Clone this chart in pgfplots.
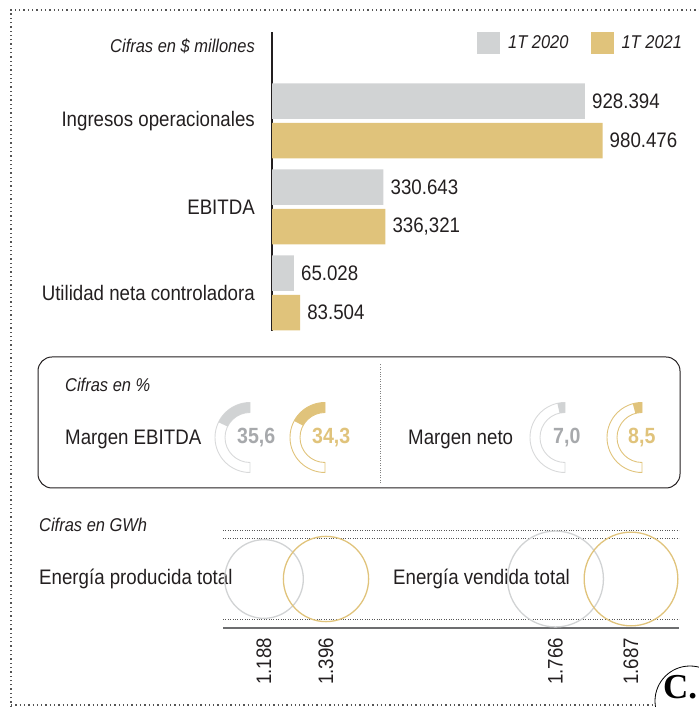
\documentclass[border=0pt]{standalone}
\usepackage{pgfplots}
\usepackage{pgfplotstable}
\pgfplotsset{compat=1.18}
\usepackage{fontspec}
\setmainfont{Liberation Sans}[FakeStretch=0.89]
\newfontfamily\logofont{Liberation Serif}
\definecolor{cgray}{HTML}{D1D3D4}
\definecolor{cgold}{HTML}{E0C37B}
\definecolor{gline}{HTML}{D8D9DA}
\definecolor{gtext}{HTML}{A7A9AC}
\definecolor{ctext}{HTML}{231F20}
\definecolor{cdot}{HTML}{555555}
\definecolor{csolid}{HTML}{6D6E70}
\newcommand\fmain{\fontsize{21bp}{24bp}\selectfont}
\newcommand\fitl{\fontsize{18.5bp}{21bp}\selectfont\itshape}
\newcommand\fbold{\fontsize{22bp}{24bp}\selectfont\bfseries}

% bars (millones de $)
\pgfplotstableread{
y v lab
2 928.394 928.394
1 330.643 330.643
0 65.028 65.028
}\tprev
\pgfplotstableread{
y v lab
2 980.476 980.476
1 336.321 336,321
0 83.504 83.504
}\tcurr
% energy circles (GWh); x = layout position
\pgfplotstableread{
x y v
264 128 1188
555.5 128 1766
}\tcprev
\pgfplotstableread{
x y v
326 128 1396
631 128 1687
}\tccurr

% gauge: centre x, value (%), fill colour, line colour
\newcommand\gauge[4]{%
  \draw[#4, line width=0.9bp] (#1,269.5) ++(90:35bp) arc[start angle=90,end angle=270,radius=35bp] -- ++(0bp,10bp) arc[start angle=270,end angle=90,radius=25bp] -- cycle;
  \fill[#3] (#1,269.5) ++(90:35bp) arc[start angle=90,end angle={90+1.8*#2},radius=35bp] -- ++({90+1.8*#2}:-10bp) arc[start angle={90+1.8*#2},end angle=90,radius=25bp] -- cycle;
}

\begin{document}
\begin{tikzpicture}
\useasboundingbox (0,0) rectangle (699bp,707bp);
\clip (0,0) rectangle (699bp,707bp);

% ---------- canvas axis (frame, gauges, circles, texts)
\begin{axis}[at={(0,0)}, anchor=south west, scale only axis,
  width=699bp, height=707bp, xmin=0, xmax=699, ymin=0, ymax=707,
  hide axis, clip=false]
  % frame
  \draw[cdot, line width=1.3bp, dash pattern=on 1.3bp off 3bp] (11,0) -- (11,697) -- (699,697);
  \draw[cdot, line width=1.3bp, dash pattern=on 1.3bp off 3bp] (11,2) -- (652,2);
  % box
  \draw[ctext, line width=1bp, rounded corners=14bp] (38,219) rectangle (680,350);
  \draw[gray, line width=0.9bp, dash pattern=on 0.9bp off 1.5bp] (380,224) -- (380,343);
  % gauges
  \gauge{250}{35.6}{cgray}{gline}
  \gauge{325}{34.3}{cgold}{cgold}
  \gauge{565}{7.0}{cgray}{gline}
  \gauge{642}{8.5}{cgold}{cgold}
  % bottom rules
  \draw[cdot, line width=0.8bp, dash pattern=on 0.8bp off 1.6bp] (223,177) -- (679,177);
  \draw[cdot, line width=0.8bp, dash pattern=on 0.8bp off 1.6bp] (223,169) -- (679,169);
  \draw[cdot, line width=0.8bp, dash pattern=on 0.8bp off 1.6bp] (223,88) -- (679,88);
  \draw[csolid, line width=1.6bp] (223,79) -- (679,79);
  % circles
  \addplot[scatter, only marks, mark=o, line width=1.3bp,
    scatter/use mapped color={draw=cgray, fill=none},
    point meta={\thisrow{v}},
    visualization depends on={1.145*sqrt(\thisrow{v}) \as \rad},
    scatter/@pre marker code/.append style={/tikz/mark size=\rad}]
    table[x=x, y=y] {\tcprev};
  \addplot[scatter, only marks, mark=o, line width=1.3bp,
    scatter/use mapped color={draw=cgold, fill=none},
    point meta={\thisrow{v}},
    visualization depends on={1.145*sqrt(\thisrow{v}) \as \rad},
    scatter/@pre marker code/.append style={/tikz/mark size=\rad}]
    table[x=x, y=y] {\tccurr};
  % texts
  \node[anchor=base east, inner sep=0pt, font=\fitl, text=ctext] at (255,654) {Cifras en \$ millones};
  \node[anchor=base west, inner sep=0pt, font=\fitl, text=ctext] at (65,315) {Cifras en \%};
  \node[anchor=base west, inner sep=0pt, font=\fmain, text=ctext] at (65,262) {Margen EBITDA};
  \node[anchor=base west, inner sep=0pt, font=\fmain, text=ctext] at (408,262) {Margen neto};
  \node[anchor=base west, inner sep=0pt, font=\fbold, text=gtext] at (237,263) {35,6};
  \node[anchor=base west, inner sep=0pt, font=\fbold, text=cgold] at (312,263) {34,3};
  \node[anchor=base west, inner sep=0pt, font=\fbold, text=gtext] at (553,263) {7,0};
  \node[anchor=base west, inner sep=0pt, font=\fbold, text=cgold] at (628,263) {8,5};
  \node[anchor=base west, inner sep=0pt, font=\fitl, text=ctext] at (39,175) {Cifras en GWh};
  \node[anchor=base west, inner sep=0pt, font=\fmain, text=ctext] at (39,122) {Energía producida total};
  \node[anchor=base west, inner sep=0pt, font=\fmain, text=ctext] at (393,122) {Energía vendida total};
  \node[anchor=east, rotate=90, inner sep=0pt, font=\fmain, text=ctext] at (264,69) {1.188};
  \node[anchor=east, rotate=90, inner sep=0pt, font=\fmain, text=ctext] at (326,69) {1.396};
  \node[anchor=east, rotate=90, inner sep=0pt, font=\fmain, text=ctext] at (555.5,69) {1.766};
  \node[anchor=east, rotate=90, inner sep=0pt, font=\fmain, text=ctext] at (631,69) {1.687};
  % logo
  \draw[black, line width=0.8bp] (690,6) circle[radius=35bp];
  \node[anchor=base west, inner sep=0pt, font=\logofont\bfseries\fontsize{35bp}{36bp}\selectfont] at (663,9) {C.};
\end{axis}

% ---------- bar axis
\begin{axis}[at={(272bp,376bp)}, anchor=south west, scale only axis,
  width=337.1bp, height=299bp, xmin=0, xmax=1000, ymin=-0.4419, ymax=3.035,
  xbar, bar width=35.5bp, clip=false,
  axis x line=none, axis y line=left, axis line style={-, draw=ctext, line width=1.1bp},
  ytick={0,1,2}, yticklabels={Utilidad neta controladora, EBITDA, Ingresos operacionales},
  major tick length=0pt,
  yticklabel style={font=\fmain, text=ctext, inner sep=0pt, anchor=east, xshift=-17bp},
  point meta=explicit symbolic, nodes near coords,
  nodes near coords style={font=\fmain, text=ctext, anchor=west, inner sep=0pt, xshift=7bp},
  legend style={at={(axis cs:608,2.907)}, anchor=west, draw=none, fill=none, inner sep=0pt,
    font=\fitl, text=ctext, nodes={inner sep=0pt, anchor=west},
    /tikz/every odd column/.append style={column sep=8bp},
    /tikz/every even column/.append style={column sep=22bp}},
  legend columns=2,
  legend image code/.code={\fill[#1] (0bp,-11bp) rectangle (23bp,11bp);},
  ]
  \addplot[fill=cgray, draw=none, bar shift=19.75bp] table[x=v, y=y, meta=lab] {\tprev};
  \addplot[fill=cgold, draw=none, bar shift=-19.75bp] table[x=v, y=y, meta=lab] {\tcurr};
  \legend{1T 2020, 1T 2021}
\end{axis}
\end{tikzpicture}
\end{document}
